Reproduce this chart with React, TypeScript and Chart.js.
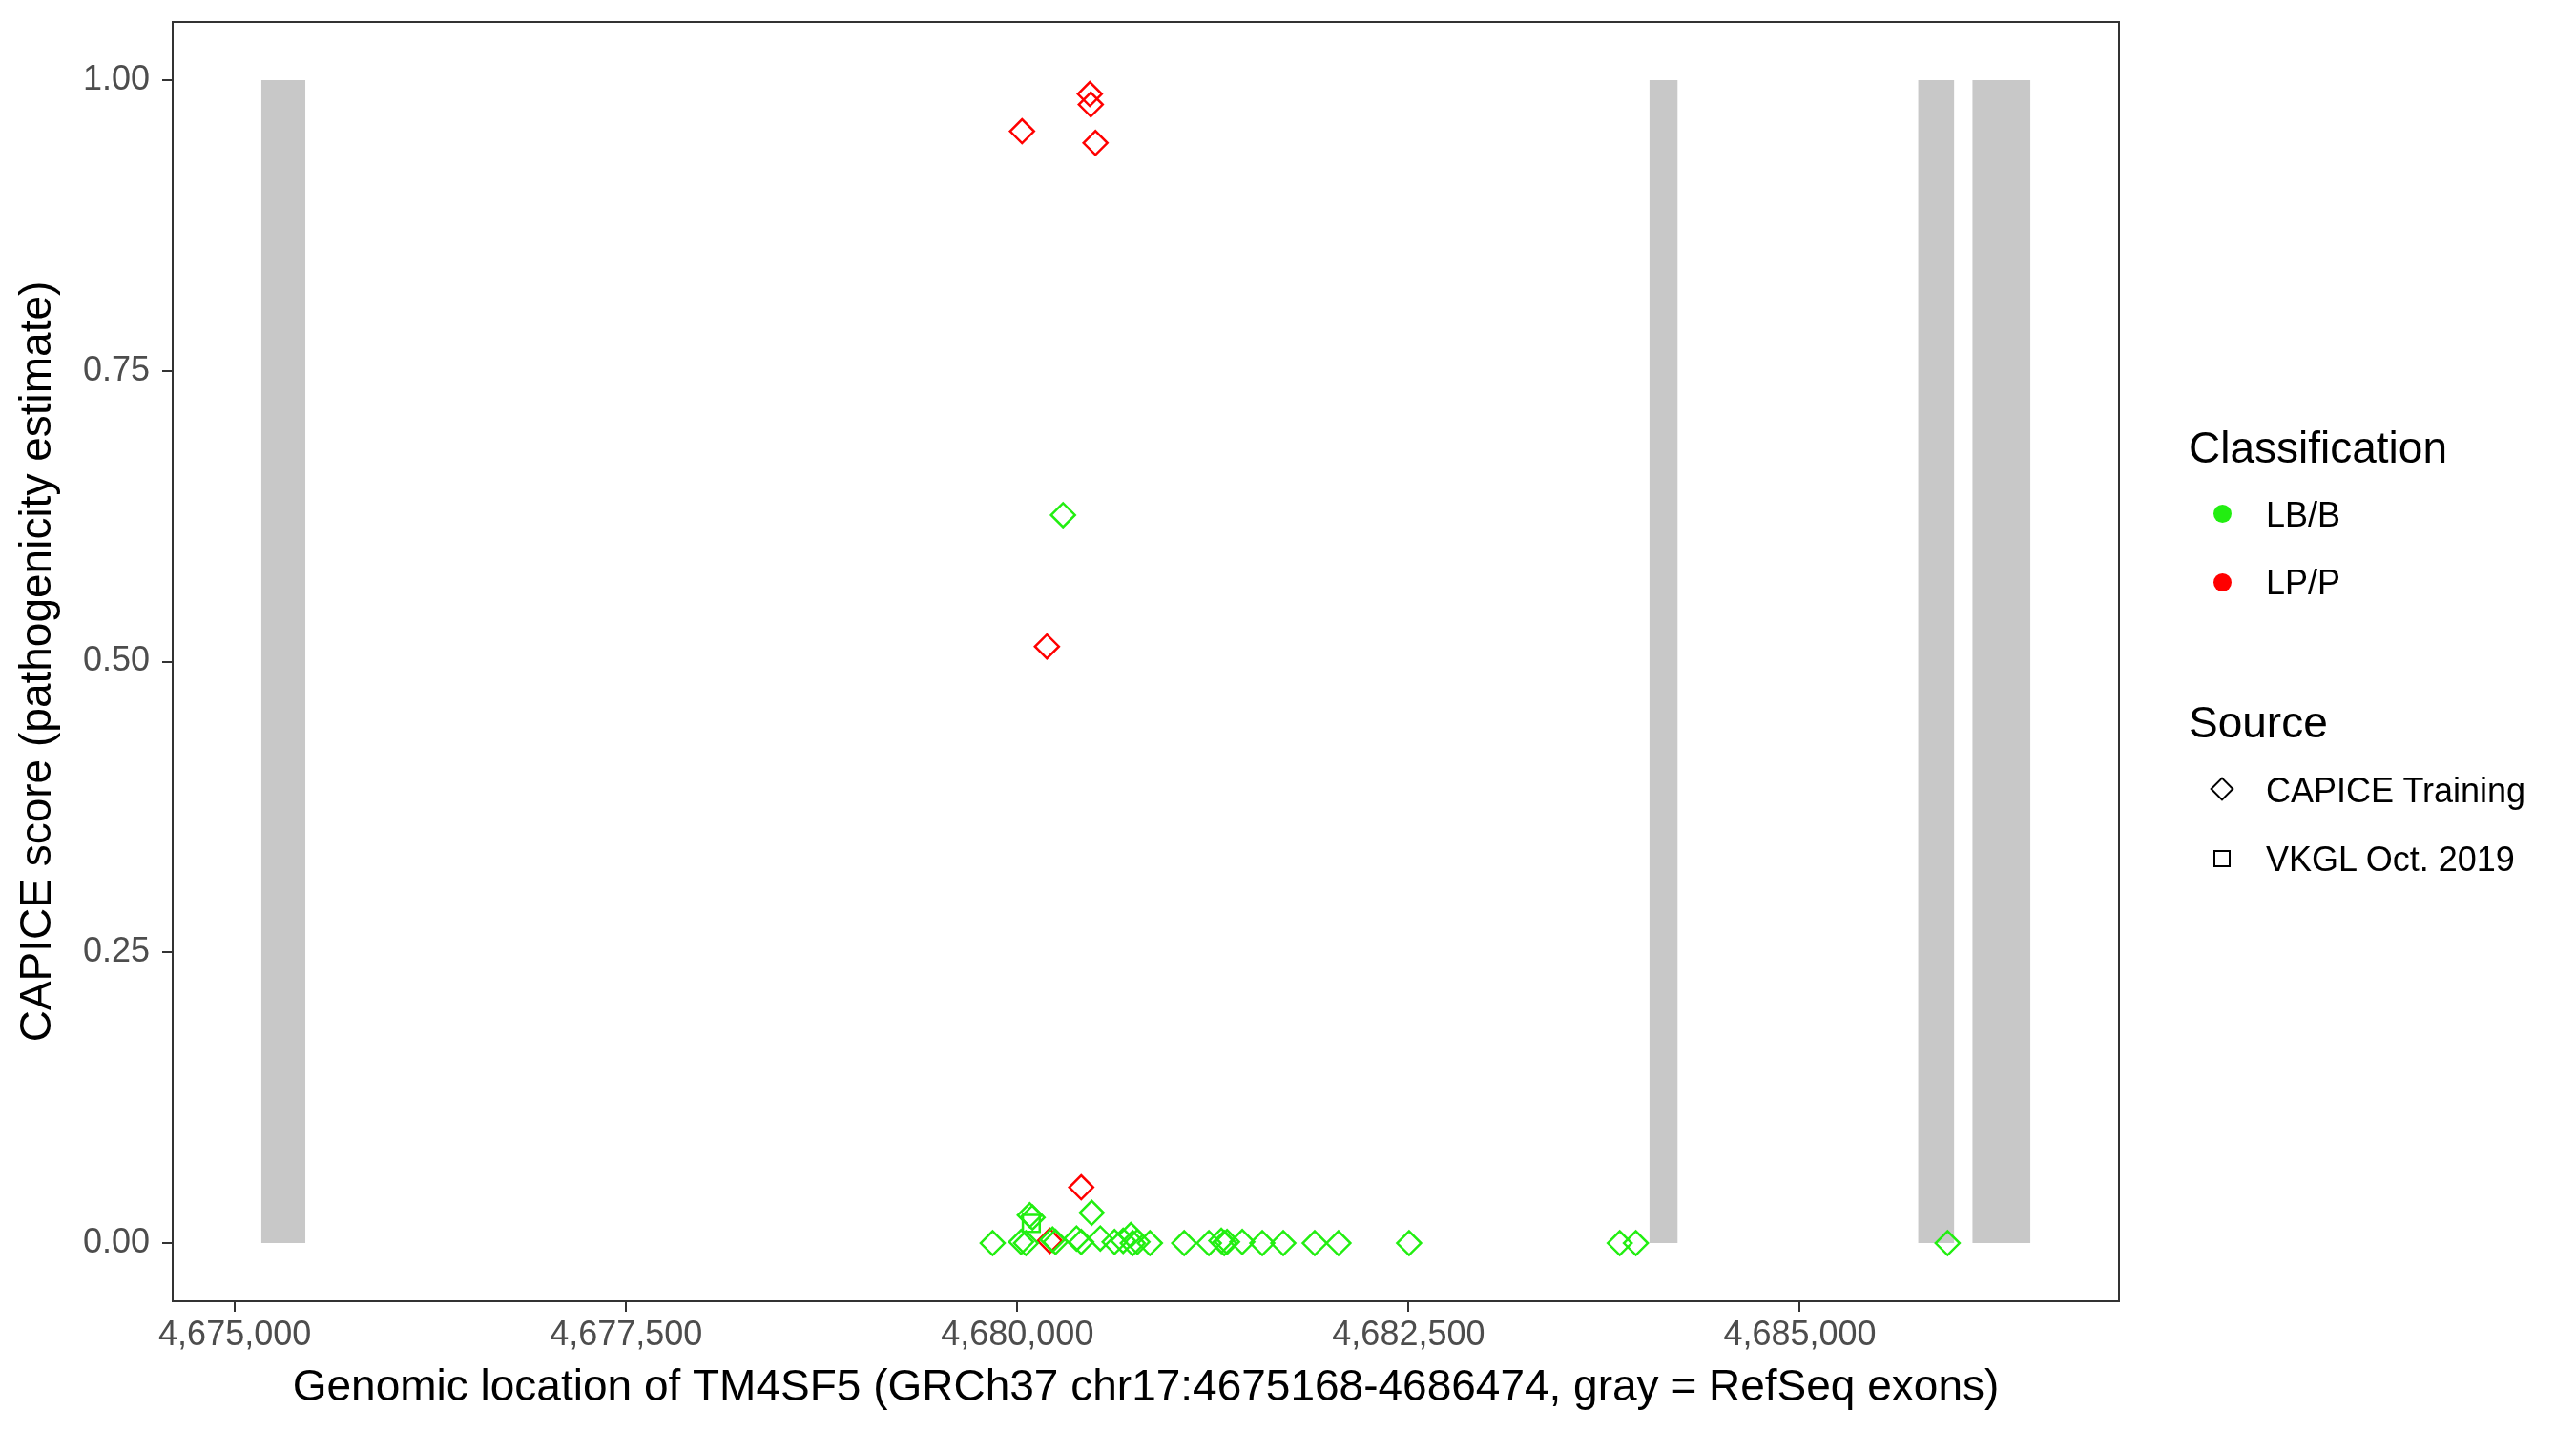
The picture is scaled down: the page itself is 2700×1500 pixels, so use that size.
import React, { useEffect, useRef } from "react";
import { Chart, registerables } from "chart.js";

Chart.register(...registerables);

// Gene region (GRCh37 chr17)
const geneStart = 4675168;
const geneEnd = 4686474;

// RefSeq exons (gray bars)
const exonStarts = [4675168, 4684038, 4685755, 4686102];
const exonEnds = [4675451, 4684220, 4685987, 4686474];

// CAPICE Training, LB/B (green diamonds)
const capiceBenignX = [
  4679842, 4680024, 4680055, 4680079, 4680097, 4680225, 4680244, 4680292,
  4680378, 4680408, 4680475, 4680530, 4680621, 4680676, 4680725, 4680737,
  4680767, 4680847, 4681066, 4681224, 4681303, 4681322, 4681340, 4681437,
  4681565, 4681699, 4681900, 4682052, 4682503, 4683849, 4683952, 4685944,
];
const capiceBenignY = [
  0, 0.001, 0, 0.024, 0.022, 0.003, 0.001, 0.626,
  0.004, 0.001, 0.026, 0.004, 0.001, 0.002, 0.007, 0,
  0.001, 0, 0, 0, 0.002, 0, 0.001, 0.001,
  0, 0, 0, 0, 0, 0, 0, 0,
];

// VKGL Oct. 2019, LB/B (green squares)
const vkglBenignX = [4680089];
const vkglBenignY = [0.017];

// CAPICE Training, LP/P (red diamonds)
const capicePathoX = [4680030, 4680463, 4680469, 4680499, 4680189, 4680408, 4680207];
const capicePathoY = [0.956, 0.988, 0.979, 0.946, 0.513, 0.048, 0.002];

// Axis ticks
const xTicks = [4675000, 4677500, 4680000, 4682500, 4685000];
const yTicks = [0, 0.25, 0.5, 0.75, 1];

const GREEN = "#22ee11";
const RED = "#ff0000";
const EXON_GRAY = "#c8c8c8";
const FONT = "'Liberation Sans', Arial, Helvetica, sans-serif";
const TICK_SIZE = 36;
const TITLE_SIZE = 46;

const toPoints = (xs: number[], ys: number[]) => xs.map((x, i) => ({ x, y: ys[i] }));

const panelBorder = {
  id: "panelBorder",
  afterDraw(chart: any) {
    const { ctx, chartArea } = chart;
    ctx.save();
    ctx.strokeStyle = "#333333";
    ctx.lineWidth = 2;
    ctx.strokeRect(chartArea.left, chartArea.top, chartArea.right - chartArea.left, chartArea.bottom - chartArea.top);
    ctx.restore();
  },
};

export default function App() {
  const canvasRef = useRef<HTMLCanvasElement | null>(null);

  useEffect(() => {
    if (!canvasRef.current) return;
    const span = geneEnd - geneStart;
    const exonDatasets = exonStarts.map((s, i) => ({
      type: "line" as const,
      label: "exon" + (i + 1),
      data: [
        { x: s, y: 1 },
        { x: exonEnds[i], y: 1 },
      ],
      fill: { value: 0 },
      backgroundColor: EXON_GRAY,
      borderColor: "rgba(0,0,0,0)",
      borderWidth: 0,
      pointRadius: 0,
      order: 10,
    }));

    const chart = new Chart(canvasRef.current, {
      type: "scatter",
      data: {
        datasets: [
          {
            label: "CAPICE Training LB/B",
            data: toPoints(capiceBenignX, capiceBenignY),
            pointStyle: "rectRot",
            pointRadius: 12.5,
            borderWidth: 2.5,
            borderColor: GREEN,
            backgroundColor: "rgba(0,0,0,0)",
            order: 0,
          },
          {
            label: "VKGL LB/B",
            data: toPoints(vkglBenignX, vkglBenignY),
            pointStyle: "rect",
            pointRadius: 12.5,
            borderWidth: 2.5,
            borderColor: GREEN,
            backgroundColor: "rgba(0,0,0,0)",
            order: 1,
          },
          {
            label: "CAPICE Training LP/P",
            data: toPoints(capicePathoX, capicePathoY),
            pointStyle: "rectRot",
            pointRadius: 12.5,
            borderWidth: 2.5,
            borderColor: RED,
            backgroundColor: "rgba(0,0,0,0)",
            order: 2,
          },
          ...exonDatasets,
        ] as any,
      },
      options: {
        animation: false,
        responsive: false,
        devicePixelRatio: 1,
        events: [],
        layout: { autoPadding: false, padding: { left: 0, top: 23, right: 479, bottom: 0 } },
        plugins: { legend: { display: false }, tooltip: { enabled: false } },
        scales: {
          x: {
            type: "linear",
            min: geneStart - 0.05 * span,
            max: geneEnd + 0.05 * span,
            afterBuildTicks: (scale: any) => {
              scale.ticks = xTicks.map((v) => ({ value: v }));
            },
            afterFit: (scale: any) => {
              scale.height = 136;
              scale.paddingLeft = 0;
              scale.paddingRight = 0;
            },
            ticks: {
              autoSkip: false,
              maxRotation: 0,
              padding: 3,
              color: "#4d4d4d",
              font: { family: FONT, size: TICK_SIZE },
              callback: (v: any) => Number(v).toLocaleString("en-US"),
            },
            grid: { display: true, drawOnChartArea: false, drawTicks: true, tickLength: 11, color: "#333333", lineWidth: 2 },
            border: { display: true, color: "#333333", width: 2 },
            title: {
              display: true,
              text: "Genomic location of TM4SF5 (GRCh37 chr17:4675168-4686474, gray = RefSeq exons)",
              color: "#000000",
              font: { family: FONT, size: TITLE_SIZE },
              padding: { top: 0, bottom: 17 },
            },
          },
          y: {
            type: "linear",
            min: -0.05,
            max: 1.05,
            afterBuildTicks: (scale: any) => {
              scale.ticks = yTicks.map((v) => ({ value: v }));
            },
            afterFit: (scale: any) => {
              scale.width = 181;
              scale.paddingTop = 0;
              scale.paddingBottom = 0;
            },
            ticks: {
              autoSkip: false,
              padding: 13,
              color: "#4d4d4d",
              font: { family: FONT, size: TICK_SIZE },
              callback: (v: any) => Number(v).toFixed(2),
            },
            grid: { display: true, drawOnChartArea: false, drawTicks: true, tickLength: 11, color: "#333333", lineWidth: 2 },
            border: { display: true, color: "#333333", width: 2 },
            title: {
              display: true,
              text: "CAPICE score (pathogenicity estimate)",
              color: "#000000",
              font: { family: FONT, size: TITLE_SIZE },
              padding: { top: 13, bottom: 0 },
            },
          },
        },
      } as any,
      plugins: [panelBorder],
    });
    return () => chart.destroy();
  }, []);

  const textStyle = (size: number, left: number, baseline: number): React.CSSProperties => ({
    position: "absolute",
    left,
    top: baseline - (size * 0.905 - (size * 0.117) / 2),
    fontFamily: FONT,
    fontSize: size,
    lineHeight: 1,
    color: "#000",
    whiteSpace: "nowrap",
  });

  return (
    <div style={{ position: "fixed", left: 0, top: 0, width: 2700, height: 1500, background: "#fff", overflow: "hidden" }}>
      <canvas ref={canvasRef} width={2700} height={1500} style={{ position: "absolute", left: 0, top: 0, width: 2700, height: 1500 }} />
      <div style={textStyle(TITLE_SIZE, 2294, 485)}>Classification</div>
      <div style={{ position: "absolute", left: 2329 - 9.5, top: 538 - 9.5, width: 19, height: 19, borderRadius: "50%", background: GREEN }} />
      <div style={textStyle(TICK_SIZE, 2375, 552)}>LB/B</div>
      <div style={{ position: "absolute", left: 2329 - 9.5, top: 610 - 9.5, width: 19, height: 19, borderRadius: "50%", background: RED }} />
      <div style={textStyle(TICK_SIZE, 2375, 623)}>LP/P</div>
      <div style={textStyle(TITLE_SIZE, 2294, 773)}>Source</div>
      <div style={{ position: "absolute", left: 2329 - 9, top: 827 - 9, width: 18, height: 18, boxSizing: "border-box", border: "2.5px solid #000", transform: "rotate(45deg)" }} />
      <div style={textStyle(TICK_SIZE, 2375, 841)}>CAPICE Training</div>
      <div style={{ position: "absolute", left: 2329 - 9, top: 900 - 9, width: 18, height: 18, boxSizing: "border-box", border: "2.5px solid #000" }} />
      <div style={textStyle(TICK_SIZE, 2375, 913)}>VKGL Oct. 2019</div>
    </div>
  );
}
